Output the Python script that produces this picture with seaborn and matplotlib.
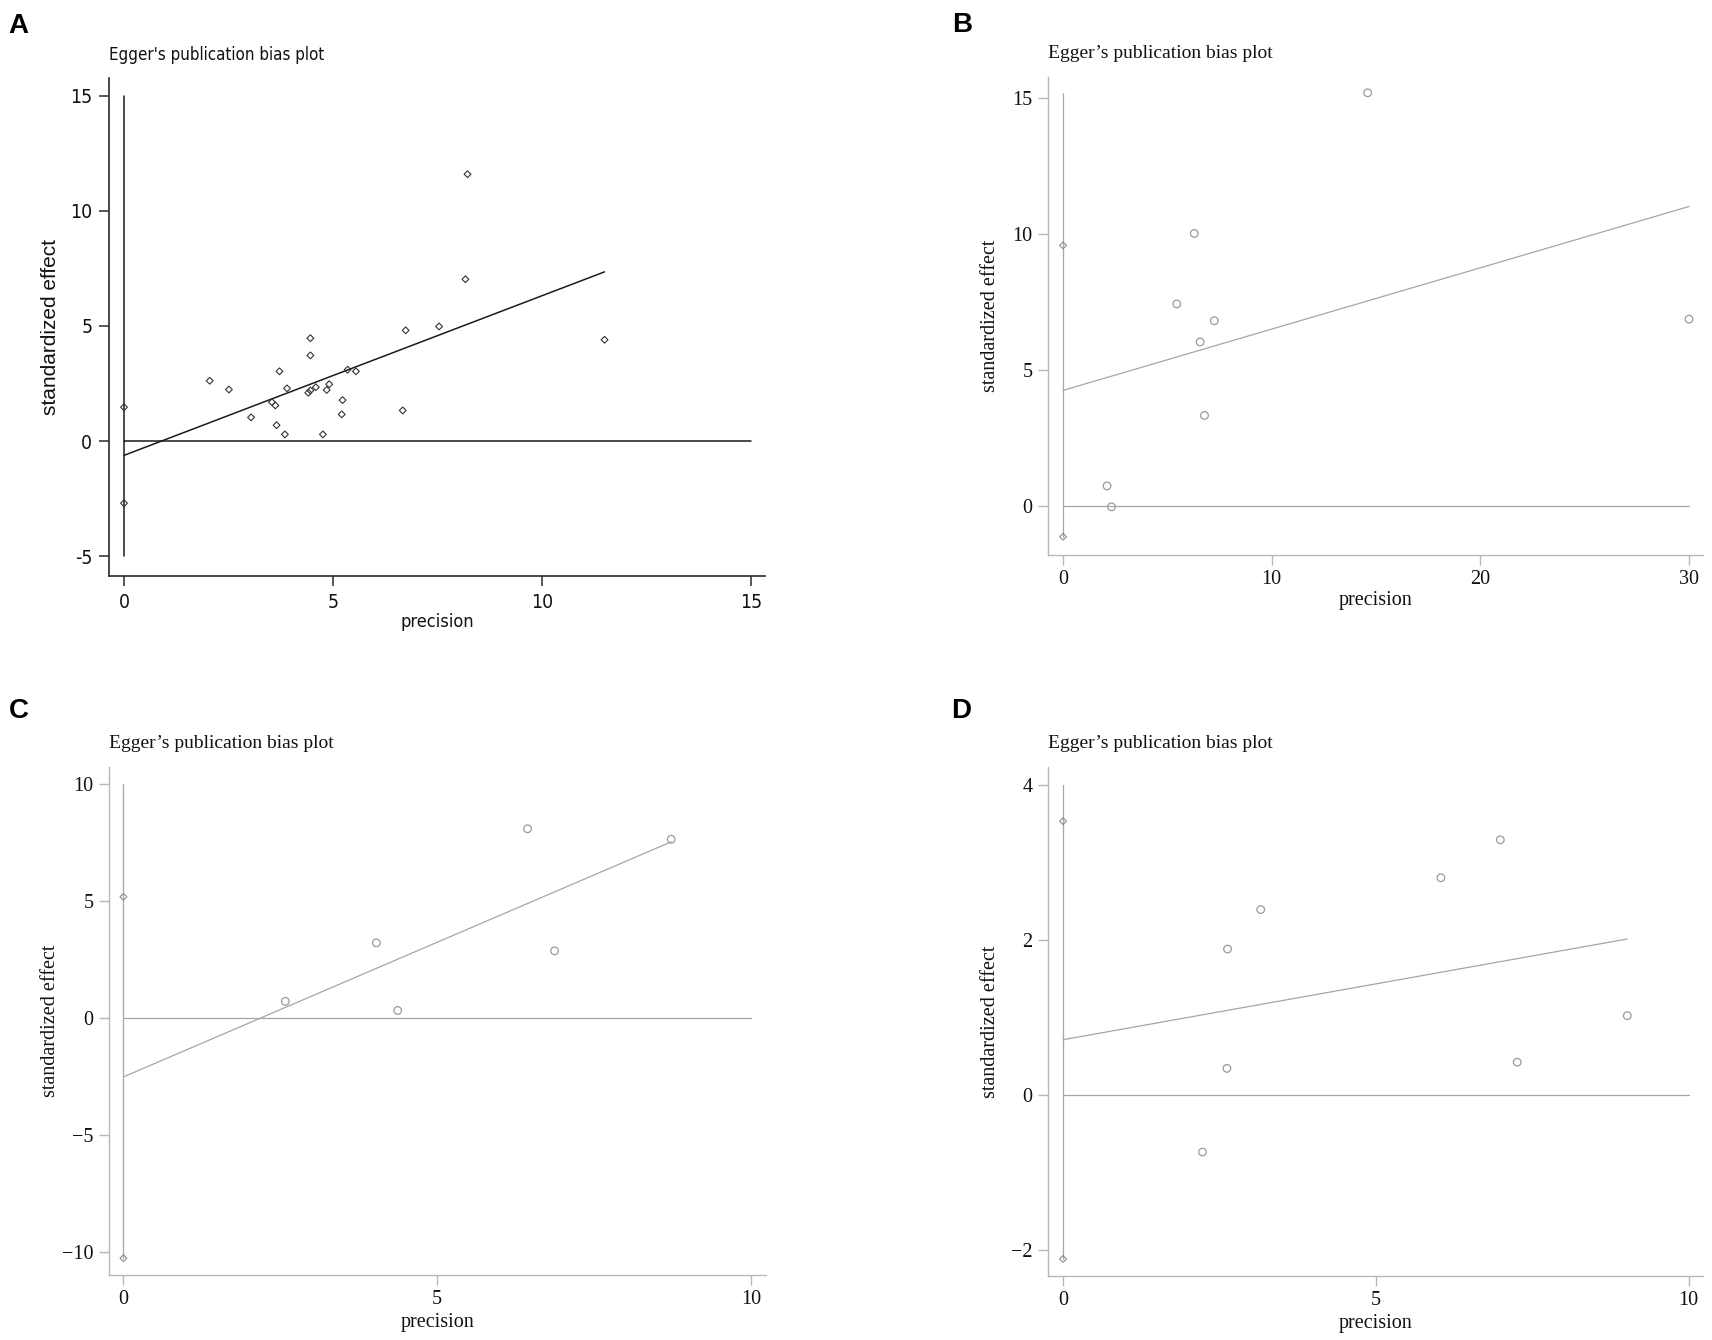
import matplotlib
matplotlib.use("Agg")
import matplotlib.pyplot as plt
from matplotlib import font_manager
import numpy as np
import pandas as pd
import seaborn as sns

# Panel A: Egger plot, all studies (diamonds)
a_prec = [0.0, 0.0, 2.05, 2.51, 3.04, 3.54, 3.62, 3.72, 3.65, 3.85, 3.90, 4.41, 4.46,
          4.46, 4.46, 4.59, 4.76, 4.85, 4.91, 5.21, 5.23, 5.35, 5.55, 6.67, 6.74, 7.54,
          8.17, 8.22, 11.50]
a_eff = [1.47, -2.70, 2.62, 2.24, 1.03, 1.69, 1.55, 3.03, 0.69, 0.29, 2.29, 2.10, 2.20,
         4.47, 3.72, 2.34, 0.29, 2.22, 2.47, 1.16, 1.78, 3.10, 3.03, 1.33, 4.81, 4.98,
         7.03, 11.59, 4.40]
a_fit_x = [0.0, 11.5]
a_fit_y = [-0.62, 7.35]
a_vspan = [-5.0, 15.0]

# Panel B
b_prec = [0.0, 0.0, 2.11, 2.32, 5.45, 6.29, 6.57, 6.78, 7.25, 14.6, 30.0]
b_eff = [9.58, -1.13, 0.74, -0.03, 7.43, 10.02, 6.03, 3.33, 6.81, 15.19, 6.87]
b_fit_x = [0.0, 30.0]
b_fit_y = [4.25, 11.01]
b_vspan = [-1.13, 15.2]

# Panel C
c_prec = [0.0, 0.0, 2.58, 4.03, 4.37, 6.44, 6.87, 8.73]
c_eff = [5.19, -10.26, 0.72, 3.22, 0.33, 8.10, 2.88, 7.65]
c_fit_x = [0.0, 8.73]
c_fit_y = [-2.51, 7.54]
c_vspan = [-10.26, 10.0]

# Panel D
d_prec = [0.0, 0.0, 2.23, 2.62, 2.63, 3.16, 6.04, 6.99, 7.26, 9.02]
d_eff = [3.53, -2.12, -0.74, 0.34, 1.88, 2.39, 2.80, 3.29, 0.42, 1.02]
d_fit_x = [0.0, 9.02]
d_fit_y = [0.71, 2.01]
d_vspan = [-2.12, 4.0]

sns.set_theme(style="white")

SANS = "Liberation Sans"
SERIF = "Liberation Serif"
plt.rcParams["font.family"] = [SANS, "DejaVu Sans"]


def pick_narrow():
    # panel A was drawn with a condensed sans; use whatever narrow face exists
    fonts = font_manager.fontManager.ttflist
    if any(f.name == "Liberation Sans Narrow" for f in fonts):
        return dict(family="Liberation Sans Narrow"), 1.0
    if any(f.name == "DejaVu Sans" and "condensed" in str(f.stretch) for f in fonts):
        return dict(family="DejaVu Sans", fontstretch="condensed"), 0.87
    return dict(family=SANS), 0.83


NARROW, NSCALE = pick_narrow()

W, H = 1712, 1340
fig = plt.figure(figsize=(W / 100, H / 100), dpi=100)


def box(l, t, r, b):
    return [l / W, 1 - b / H, (r - l) / W, (b - t) / H]


panels = [
    dict(letter="A", rect=box(109, 78, 765, 576), prec=a_prec, eff=a_eff,
         fit_x=a_fit_x, fit_y=a_fit_y, vspan=a_vspan, hend=15,
         xlim=(-0.36, 15.34), ylim=(-5.86, 15.77),
         xticks=[0, 5, 10, 15], yticks=[-5, 0, 5, 10, 15],
         style="stata", title="Egger's publication bias plot",
         title_xy=(109, 60), letter_xy=(8, 33)),
    dict(letter="B", rect=box(1048, 77, 1703, 555), prec=b_prec, eff=b_eff,
         fit_x=b_fit_x, fit_y=b_fit_y, vspan=b_vspan, hend=30,
         xlim=(-0.72, 30.67), ylim=(-1.8, 15.77),
         xticks=[0, 10, 20, 30], yticks=[0, 5, 10, 15],
         style="grey", title="Egger\u2019s publication bias plot",
         title_xy=(1048, 58), letter_xy=(952, 32)),
    dict(letter="C", rect=box(109, 767, 766, 1275), prec=c_prec, eff=c_eff,
         fit_x=c_fit_x, fit_y=c_fit_y, vspan=c_vspan, hend=10,
         xlim=(-0.23, 10.24), ylim=(-10.98, 10.74),
         xticks=[0, 5, 10], yticks=[-10, -5, 0, 5, 10],
         style="grey", title="Egger\u2019s publication bias plot",
         title_xy=(109, 748), letter_xy=(9, 718)),
    dict(letter="D", rect=box(1048, 767, 1703, 1276), prec=d_prec, eff=d_eff,
         fit_x=d_fit_x, fit_y=d_fit_y, vspan=d_vspan, hend=10,
         xlim=(-0.24, 10.23), ylim=(-2.34, 4.23),
         xticks=[0, 5, 10], yticks=[-2, 0, 2, 4],
         style="grey", title="Egger\u2019s publication bias plot",
         title_xy=(1048, 748), letter_xy=(951, 718)),
]

for p in panels:
    ax = fig.add_axes(p["rect"])
    stata = p["style"] == "stata"
    col = "#1a1a1a" if stata else "#a6a6a6"
    spine_col = "#2a2a2a" if stata else "#b8b8b8"
    lw = 1.1 if stata else 0.9

    df = pd.DataFrame({"precision": p["prec"], "effect": p["eff"]})
    df["kind"] = np.where((df["precision"] == 0) | stata, "ref", "study")

    # reference lines and fitted regression line
    ax.plot([0, 0], p["vspan"], color=col, lw=lw, zorder=1)
    ax.plot([0, p["hend"]], [0, 0], color=col, lw=lw, zorder=1)
    sns.lineplot(x=p["fit_x"], y=p["fit_y"], color=col, lw=lw, ax=ax, zorder=2)

    dia = df[df["kind"] == "ref"]
    circ = df[df["kind"] == "study"]
    sns.scatterplot(data=dia, x="precision", y="effect", marker="D", s=12,
                    color=col, facecolor="none", edgecolor=("#333333" if stata else "#8c8c8c"),
                    linewidth=0.8, ax=ax, zorder=3)
    if len(circ):
        sns.scatterplot(data=circ, x="precision", y="effect", marker="o", s=30,
                        color=col, facecolor="none", edgecolor="#9a9a9a",
                        linewidth=0.9, ax=ax, zorder=3)

    ax.set_xlim(*p["xlim"])
    ax.set_ylim(*p["ylim"])
    for s in ["top", "right"]:
        ax.spines[s].set_visible(False)
    for s in ["left", "bottom"]:
        ax.spines[s].set_color(spine_col)
        ax.spines[s].set_linewidth(1.2 if stata else 1.0)

    if stata:
        ylabels = [str(t) for t in p["yticks"]]
    else:
        ylabels = [str(t).replace("-", "\u2212") for t in p["yticks"]]
    ax.set_xticks(p["xticks"], [str(t) for t in p["xticks"]])
    ax.set_yticks(p["yticks"], ylabels)
    ax.tick_params(axis="both", direction="out", length=7, width=1.1 if stata else 1.0,
                   color=spine_col, pad=5 if stata else 4,
                   labelcolor="#111111", left=True, bottom=True)
    for t in ax.get_xticklabels() + ax.get_yticklabels():
        if stata:
            t.set(**NARROW)
            t.set_fontsize(16 * NSCALE)
        else:
            t.set_fontfamily(SERIF)
            t.set_fontsize(14.5)

    if stata:
        ax.set_xlabel("precision", fontsize=15 * NSCALE, color="#111111", **NARROW)
        ax.set_ylabel("standardized effect", fontsize=15, family=SANS, color="#111111")
    else:
        ax.set_xlabel("precision", fontsize=14.5, family=SERIF, color="#111111")
        ax.set_ylabel("standardized effect", fontsize=14.5, family=SERIF, color="#111111")
    ax.yaxis.set_label_coords(-0.074, 0.5)
    ax.xaxis.set_label_coords(0.5, -0.075)

    tx, ty = p["title_xy"]
    if stata:
        fig.text(tx / W, 1 - ty / H, p["title"], ha="left", va="baseline",
                 fontsize=14 * NSCALE, color="#111111", **NARROW)
    else:
        fig.text(tx / W, 1 - ty / H, p["title"], ha="left", va="baseline",
                 fontsize=14, family=SERIF, color="#111111")
    lx, ly = p["letter_xy"]
    fig.text(lx / W, 1 - ly / H, p["letter"], ha="left", va="baseline",
             fontsize=20, fontweight="bold", family=SANS, color="black")

fig.savefig("out.png", dpi=100, facecolor="white")
